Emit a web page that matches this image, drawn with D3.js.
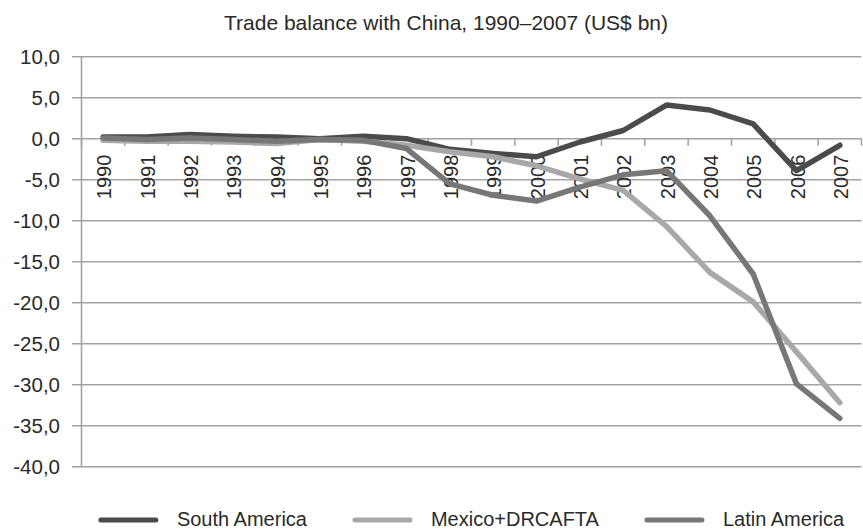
<!DOCTYPE html>
<html>
<head>
<meta charset="utf-8">
<script src="https://cdn.jsdelivr.net/npm/d3@7"></script>
<style>
  html, body { margin: 0; padding: 0; background: #fff; }
  svg { display: block; font-family: "Liberation Sans", Arial, sans-serif; }
</style>
</head>
<body>
<svg id="chart" width="863" height="531"></svg>
<script>
const years = ["1990","1991","1992","1993","1994","1995","1996","1997","1998","1999","2000","2001","2002","2003","2004","2005","2006","2007"];
const southAmerica  = [0.2, 0.2, 0.5, 0.3, 0.2, 0.0, 0.3, 0.0, -1.3, -1.8, -2.2, -0.4, 1.0, 4.1, 3.5, 1.8, -3.9, -0.8];
const mexicoDRCAFTA = [-0.2, -0.3, -0.3, -0.4, -0.6, -0.1, -0.3, -0.8, -1.6, -2.2, -3.3, -4.9, -6.3, -10.7, -16.3, -19.9, -26.0, -32.2];
const latinAmerica  = [0.1, -0.1, 0.1, -0.1, -0.3, -0.1, -0.2, -1.2, -5.5, -6.9, -7.6, -5.9, -4.4, -3.9, -9.4, -16.5, -29.9, -34.1];
const seriesNames = ["South America", "Mexico+DRCAFTA", "Latin America"];
const yTickValues = [10, 5, 0, -5, -10, -15, -20, -25, -30, -35, -40];
const titleText = "Trade balance with China, 1990\u20132007 (US$ bn)";

const colors = ["#4b4b4b", "#a8a8a8", "#777777"];
const seriesData = [southAmerica, mexicoDRCAFTA, latinAmerica];

const svg = d3.select("#chart");
const plotLeft = 81.5, plotRight = 861.5, plotTop = 56.7, plotBottom = 466.7;

const x = d3.scaleBand().domain(years).range([plotLeft, plotRight]);
const y = d3.scaleLinear().domain([-40, 10]).range([plotBottom, plotTop]);
const loc = d3.formatLocale({decimal: ",", thousands: ".", grouping: [3], currency: ["", ""], minus: "-"});
const fmt = loc.format(".1f");

// title
svg.append("text")
  .attr("x", 446).attr("y", 30)
  .attr("text-anchor", "middle")
  .attr("font-size", 21)
  .attr("fill", "#2a2a2a")
  .text(titleText);

// gridlines + y ticks
svg.append("g").selectAll("line").data(yTickValues).join("line")
  .attr("x1", 72).attr("x2", plotRight)
  .attr("y1", d => y(d)).attr("y2", d => y(d))
  .attr("stroke", "#a3a3a3").attr("stroke-width", 1.6);

// left axis line
svg.append("line")
  .attr("x1", plotLeft).attr("x2", plotLeft)
  .attr("y1", y(10)).attr("y2", y(-40))
  .attr("stroke", "#a3a3a3").attr("stroke-width", 1.6);

// y labels
svg.append("g").selectAll("text").data(yTickValues).join("text")
  .attr("x", 60).attr("y", d => y(d))
  .attr("dy", "0.35em")
  .attr("text-anchor", "end")
  .attr("font-size", 20.5)
  .attr("fill", "#2a2a2a")
  .text(d => fmt(d));

// category axis ticks at y=0 (band boundaries)
const boundaries = years.map(d => x(d)).concat([x(years[years.length - 1]) + x.bandwidth()]);
svg.append("g").selectAll("line").data(boundaries).join("line")
  .attr("x1", d => d).attr("x2", d => d)
  .attr("y1", y(0)).attr("y2", y(0) + 7)
  .attr("stroke", "#a3a3a3").attr("stroke-width", 1.6);

// x labels (rotated)
svg.append("g").selectAll("text").data(years).join("text")
  .attr("transform", d => `translate(${x(d) + x.bandwidth() / 2 + 1},${y(0) + 16}) rotate(-90)`)
  .attr("text-anchor", "end")
  .attr("dy", "0.35em")
  .attr("font-size", 20)
  .attr("fill", "#2a2a2a")
  .text(d => d);

// lines
const line = d3.line()
  .x((d, i) => x(years[i]) + x.bandwidth() / 2)
  .y(d => y(d));

svg.append("g").selectAll("path").data(seriesData).join("path")
  .attr("d", d => line(d))
  .attr("fill", "none")
  .attr("stroke", (d, i) => colors[i])
  .attr("stroke-width", 5.5)
  .attr("stroke-linejoin", "round")
  .attr("stroke-linecap", "round");

// legend
const legend = svg.append("g");
let cx = 0;
const ly = 520;
seriesNames.forEach((name, i) => {
  const g = legend.append("g").attr("transform", `translate(${cx},0)`);
  g.append("line")
    .attr("x1", 2).attr("x2", 57)
    .attr("y1", ly).attr("y2", ly)
    .attr("stroke", colors[i]).attr("stroke-width", 5)
    .attr("stroke-linecap", "round");
  const t = g.append("text")
    .attr("x", 78).attr("y", 525.5)
    .attr("font-size", 20)
    .attr("fill", "#2a2a2a")
    .text(name);
  const w = t.node().getComputedTextLength();
  cx += 78 + w + 46;
});
const total = cx - 46;
legend.attr("transform", `translate(${(plotLeft + plotRight) / 2 - total / 2},0)`);
</script>
</body>
</html>
